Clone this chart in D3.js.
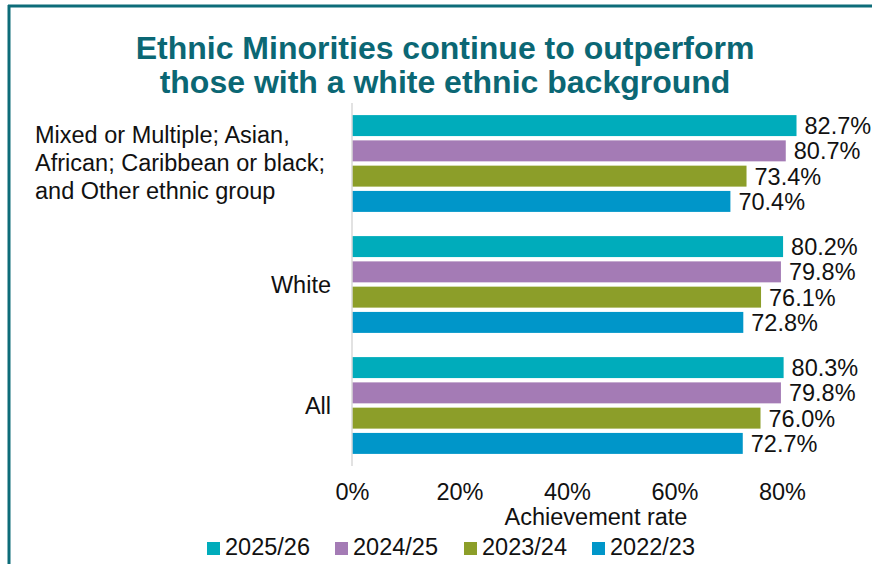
<!DOCTYPE html>
<html><head><meta charset="utf-8">
<script src="https://cdn.jsdelivr.net/npm/d3@7"></script>
<style>
html,body{margin:0;padding:0;background:#fff;}
svg{display:block;font-family:"Liberation Sans",Arial,sans-serif;}
</style></head>
<body>
<svg id="chart" width="872" height="564"></svg>
<script>
const categories = ["Mixed or Multiple; Asian, African; Caribbean or black; and Other ethnic group", "White", "All"];
const categoryLines = [["Mixed or Multiple; Asian,", "African; Caribbean or black;", "and Other ethnic group"], ["White"], ["All"]];
const seriesNames = ["2025/26", "2024/25", "2023/24", "2022/23"];
const v2025 = [82.7, 80.2, 80.3];
const v2024 = [80.7, 79.8, 79.8];
const v2023 = [73.4, 76.1, 76.0];
const v2022 = [70.4, 72.8, 72.7];
const seriesColors = ["#00acbb", "#a47bb5", "#8c9e29", "#0096c9"];
const tickValues = [0, 20, 40, 60, 80];
const titleLines = ["Ethnic Minorities continue to outperform", "those with a white ethnic background"];
const axisTitle = "Achievement rate";

const seriesValues = [v2025, v2024, v2023, v2022];
const svg = d3.select("#chart");
const FS = 23.5;

// frame
svg.append("line").attr("x1", 8).attr("x2", 872).attr("y1", 6).attr("y2", 6)
  .attr("stroke", "#0d6c79").attr("stroke-width", 3);
svg.append("line").attr("x1", 9).attr("x2", 9).attr("y1", 5).attr("y2", 564)
  .attr("stroke", "#0d6c79").attr("stroke-width", 3);

// title
svg.append("g").selectAll("text").data(titleLines).join("text")
  .attr("x", 445).attr("y", (d, i) => 59 + i * 34)
  .attr("text-anchor", "middle")
  .attr("font-weight", "bold").attr("font-size", 32)
  .attr("fill", "#0b6774")
  .text(d => d);

const x = d3.scaleLinear().domain([0, 80]).range([352, 782]);
const y = d3.scaleBand().domain(categories).range([103, 466]).paddingInner(0.2).paddingOuter(0.1);
const ys = d3.scaleBand().domain(seriesNames).range([0, y.bandwidth()]).paddingInner(0.17);

// bars
const g = svg.append("g");
categories.forEach((c, ci) => {
  seriesNames.forEach((s, si) => {
    const val = seriesValues[si][ci];
    g.append("rect")
      .attr("x", x(0)).attr("y", y(c) + ys(s))
      .attr("width", x(val) - x(0)).attr("height", ys.bandwidth())
      .attr("fill", seriesColors[si]);
    g.append("text")
      .attr("x", x(val) + 8).attr("y", y(c) + ys(s) + ys.bandwidth() / 2)
      .attr("dy", "0.36em")
      .attr("font-size", FS).attr("fill", "#111")
      .text(val.toFixed(1) + "%");
  });
});

// y axis line
svg.append("line").attr("x1", 352).attr("x2", 352).attr("y1", 103).attr("y2", 466)
  .attr("stroke", "#d9d9d9").attr("stroke-width", 1.5);

// category labels
categories.forEach((c, ci) => {
  const lines = categoryLines[ci];
  const cy = y(c) + y.bandwidth() / 2;
  if (lines.length > 1) {
    svg.append("g").selectAll("text").data(lines).join("text")
      .attr("x", 35).attr("y", (d, i) => 143 + i * 28)
      .attr("font-size", FS).attr("fill", "#111")
      .text(d => d);
  } else {
    svg.append("text").attr("x", 331).attr("y", cy).attr("dy", "0.35em")
      .attr("text-anchor", "end").attr("font-size", FS).attr("fill", "#111")
      .text(lines[0]);
  }
});

// x axis ticks
const xAxis = d3.axisBottom(x).tickValues(tickValues).tickFormat(d => d + "%").tickSize(0).tickPadding(0);
const ax = svg.append("g").attr("transform", "translate(0,499.5)").call(xAxis);
ax.select(".domain").remove();
ax.selectAll("text").attr("font-size", FS).attr("fill", "#111")
  .attr("font-family", "Liberation Sans, Arial, sans-serif").attr("dy", 0);

svg.append("text").attr("x", 596).attr("y", 525).attr("text-anchor", "middle")
  .attr("font-size", FS).attr("fill", "#111").text(axisTitle);

// legend
const legendX = [207, 335, 464, 592];
const lg = svg.append("g");
seriesNames.forEach((s, i) => {
  lg.append("rect").attr("x", legendX[i]).attr("y", 542).attr("width", 13).attr("height", 13).attr("fill", seriesColors[i]);
  lg.append("text").attr("x", legendX[i] + 18).attr("y", 555).attr("font-size", FS).attr("fill", "#111").text(s);
});
</script>
</body></html>
